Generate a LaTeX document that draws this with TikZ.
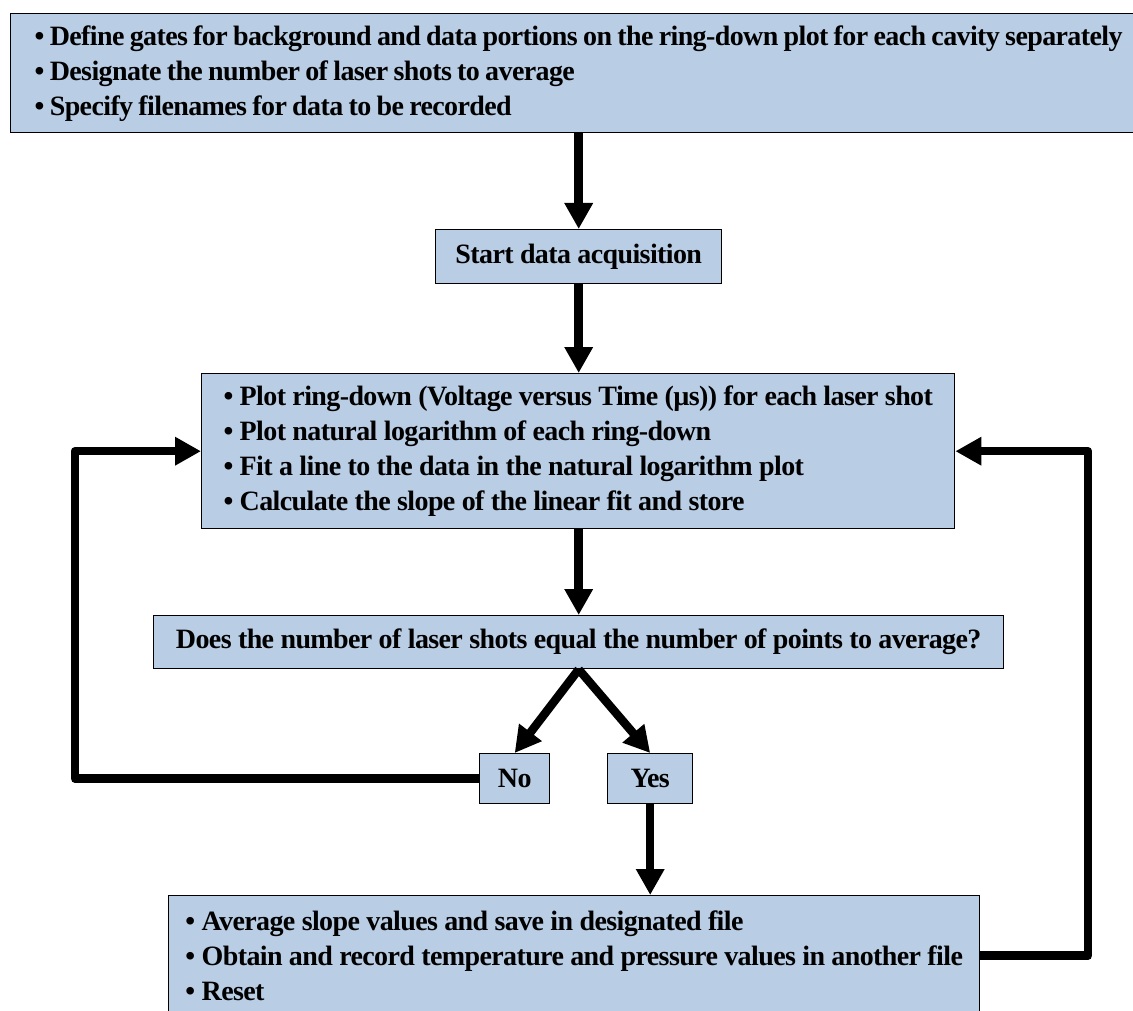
\documentclass[tikz,border=0pt]{standalone}
\usepackage{fontspec}
\setmainfont{Liberation Serif}
\newfontfamily\boxfont{Liberation Serif}[LetterSpace=-2.2]
\newcommand\mytightspace{\spaceskip=5.3pt plus 1pt minus 1pt\relax}
\usetikzlibrary{arrows.meta}
\definecolor{boxfill}{RGB}{185,205,229}
\begin{document}
\begin{tikzpicture}[x=1pt,y=-1pt,
  box/.style={draw=black, line width=1.4pt, fill=boxfill, rectangle,
    font=\fontsize{28}{35}\boxfont\bfseries, inner ysep=2pt, inner xsep=4pt},
  conn/.style={line width=8.5pt, line join=round,
    -{Triangle[length=26pt,width=27pt]}}]
\clip (0,0) rectangle (1133,1011);
\fill[white] (0,0) rectangle (1133,1011);

\node[box, anchor=north west, minimum height=119pt,
  inner xsep=24pt, align=left,
  font=\fontsize{28}{35}\boxfont\bfseries\mytightspace] (setup) at (10,13)
  {• Define gates for background and data portions on the ring-down plot for each cavity separately\\
   • Designate the number of laser shots to average\\
   • Specify filenames for data to be recorded};

\node[box, anchor=north west, minimum width=286pt, minimum height=54pt] (start) at (435,229)
  {Start data acquisition};

\node[box, anchor=north west, minimum width=753pt, minimum height=155pt, align=left] (plot) at (201,373)
  {• Plot ring-down (Voltage versus Time (µs)) for each laser shot\\
   • Plot natural logarithm of each ring-down\\
   • Fit a line to the data in the natural logarithm plot\\
   • Calculate the slope of the linear fit and store};

\node[box, anchor=north west, minimum width=850pt, minimum height=53pt] (decide) at (153,615)
  {Does the number of laser shots equal the number of points to average?};

\node[box, anchor=north west, minimum width=70pt, minimum height=50pt] (no) at (479,753) {No};
\node[box, anchor=north west, minimum width=85pt, minimum height=50pt] (yes) at (607,753) {Yes};

\node[box, anchor=north west, minimum width=811pt, minimum height=120pt, align=left] (final) at (168,895)
  {• Average slope values and save in designated file\\
   • Obtain and record temperature and pressure values in another file\\
   • Reset};

\coordinate (lc) at (75,452);
\coordinate (rc) at (1088,452);

\draw[conn] (setup.south -| start.north) -- (start.north);
\draw[conn] (start.south) -- (plot.north -| start.south);
\draw[conn] (plot.south -| start.south) -- (decide.north -| start.south);
\draw[conn] (decide.south -| start.south) -- (no.north);
\draw[conn] (decide.south -| start.south) -- (yes.north);
\draw[conn] (yes.south) -- (final.north -| yes.south);
\draw[conn] (no.west) -| (lc |- plot.west) -- (plot.west);
\draw[conn] (final.east) -| (rc |- plot.east) -- (plot.east);
\end{tikzpicture}
\end{document}
